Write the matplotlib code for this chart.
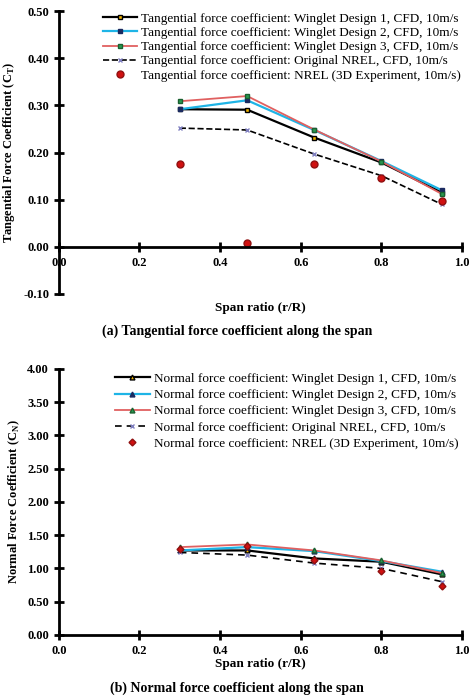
import numpy as np
import matplotlib.pyplot as plt

plt.rcParams['font.family'] = ['Liberation Serif', 'DejaVu Serif']

span = [0.3, 0.467, 0.633, 0.8, 0.95]

# tangencial
ct_w1 = [0.292, 0.291, 0.232, 0.179, 0.115]
ct_w2 = [0.292, 0.311, 0.248, 0.182, 0.120]
ct_w3 = [0.309, 0.320, 0.249, 0.181, 0.112]
ct_orig = [0.252, 0.248, 0.197, 0.151, 0.090]
ct_exp = [0.175, 0.008, 0.176, 0.147, 0.097]

# normal
cn_w1 = [1.27, 1.27, 1.15, 1.10, 0.91]
cn_w2 = [1.27, 1.32, 1.26, 1.11, 0.95]
cn_w3 = [1.32, 1.36, 1.27, 1.12, 0.93]
cn_orig = [1.24, 1.20, 1.08, 1.00, 0.80]
cn_exp = [1.29, 1.34, 1.13, 0.96, 0.73]

fig = plt.figure(figsize=(4.74, 7.0), dpi=100)
ax1 = fig.add_axes([0.124, 0.58, 0.851, 0.404])
ax2 = fig.add_axes([0.124, 0.093, 0.851, 0.380])

def estilo(ax):
    for s in ['top', 'right']:
        ax.spines[s].set_visible(False)
    for s in ['left', 'bottom']:
        ax.spines[s].set_linewidth(2)
    ax.tick_params(direction='inout', width=2, length=7, labelsize=9)
    ax.set_xlim(0, 1.0)
    ax.set_xticks(np.arange(0, 1.01, 0.2))
    ax.set_xticklabels(['{:.1f}'.format(v) for v in np.arange(0, 1.01, 0.2)], fontweight='bold')

pre = 'Tangential force coefficient: '
ax1.plot(span, ct_w1, 'k-', lw=1.6, marker='s', ms=3.5, mfc='#f0b400', mec='k', label=pre + 'Winglet Design 1, CFD, 10m/s')
ax1.plot(span, ct_w2, '-', color='#1eb4e6', lw=1.6, marker='s', ms=3.5, mfc='#1a2a60', mec='#1a2a60', label=pre + 'Winglet Design 2, CFD, 10m/s')
ax1.plot(span, ct_w3, '-', color='#e06060', lw=1.3, marker='s', ms=3.5, mfc='#2a9a50', mec='#1a6030', label=pre + 'Winglet Design 3, CFD, 10m/s')
ax1.plot(span, ct_orig, 'k--', lw=1.2, marker='x', ms=3, mec='#8080c0', label=pre + 'Original NREL, CFD, 10m/s')
ax1.plot(span, ct_exp, 'o', ms=5, color='#d01010', mec='#901010', label=pre + 'NREL (3D Experiment, 10m/s)')
ax1.set_ylim(-0.10, 0.50)
ax1.set_yticks(np.arange(-0.1, 0.51, 0.1))
ax1.set_yticklabels(['{:.2f}'.format(v) for v in np.arange(-0.1, 0.51, 0.1)], fontweight='bold')
ax1.spines['bottom'].set_position(('data', 0))
estilo(ax1)
ax1.set_ylabel('Tangential Force Coefficient (C$_\\mathregular{T}$)', fontsize=9, fontweight='bold')
ax1.legend(loc='upper right', frameon=False, fontsize=9.5, handlelength=2.6, handletextpad=0.3,
           borderpad=0, labelspacing=0.15, borderaxespad=0.1)
fig.text(0.55, 0.555, 'Span ratio (r/R)', ha='center', fontsize=9.5, fontweight='bold')
fig.text(0.5, 0.522, '(a) Tangential force coefficient along the span', ha='center', fontsize=10, fontweight='bold')

pre = 'Normal force coefficient: '
ax2.plot(span, cn_w1, 'k-', lw=1.6, marker='^', ms=3.5, mfc='#f0b400', mec='k', label=pre + 'Winglet Design 1, CFD, 10m/s')
ax2.plot(span, cn_w2, '-', color='#1eb4e6', lw=1.6, marker='^', ms=3.5, mfc='#1a2a60', mec='#1a2a60', label=pre + 'Winglet Design 2, CFD, 10m/s')
ax2.plot(span, cn_w3, '-', color='#e06060', lw=1.3, marker='^', ms=3.5, mfc='#2a9a50', mec='#1a6030', label=pre + 'Winglet Design 3, CFD, 10m/s')
ax2.plot(span, cn_orig, 'k--', lw=1.2, dashes=(4, 3), marker='x', ms=3, mec='#8080c0', label=pre + 'Original NREL, CFD, 10m/s')
ax2.plot(span, cn_exp, 'D', ms=3.5, color='#d01010', mec='#901010', label=pre + 'NREL (3D Experiment, 10m/s)')
ax2.set_ylim(0, 4.0)
ax2.set_yticks(np.arange(0, 4.01, 0.5))
ax2.set_yticklabels(['{:.2f}'.format(v) for v in np.arange(0, 4.01, 0.5)], fontweight='bold')
estilo(ax2)
ax2.set_ylabel('Normal Force Coefficient (C$_\\mathregular{N}$)', fontsize=9, fontweight='bold')
ax2.set_xlabel('Span ratio (r/R)', fontsize=9.5, fontweight='bold', labelpad=1)
ax2.legend(loc='upper right', frameon=False, fontsize=9.5, handlelength=2.6, handletextpad=0.3,
           borderpad=0, labelspacing=0.3, borderaxespad=0.3)
fig.text(0.5, 0.012, '(b) Normal force coefficient along the span', ha='center', fontsize=10, fontweight='bold')

plt.savefig('out.png', dpi=100)
